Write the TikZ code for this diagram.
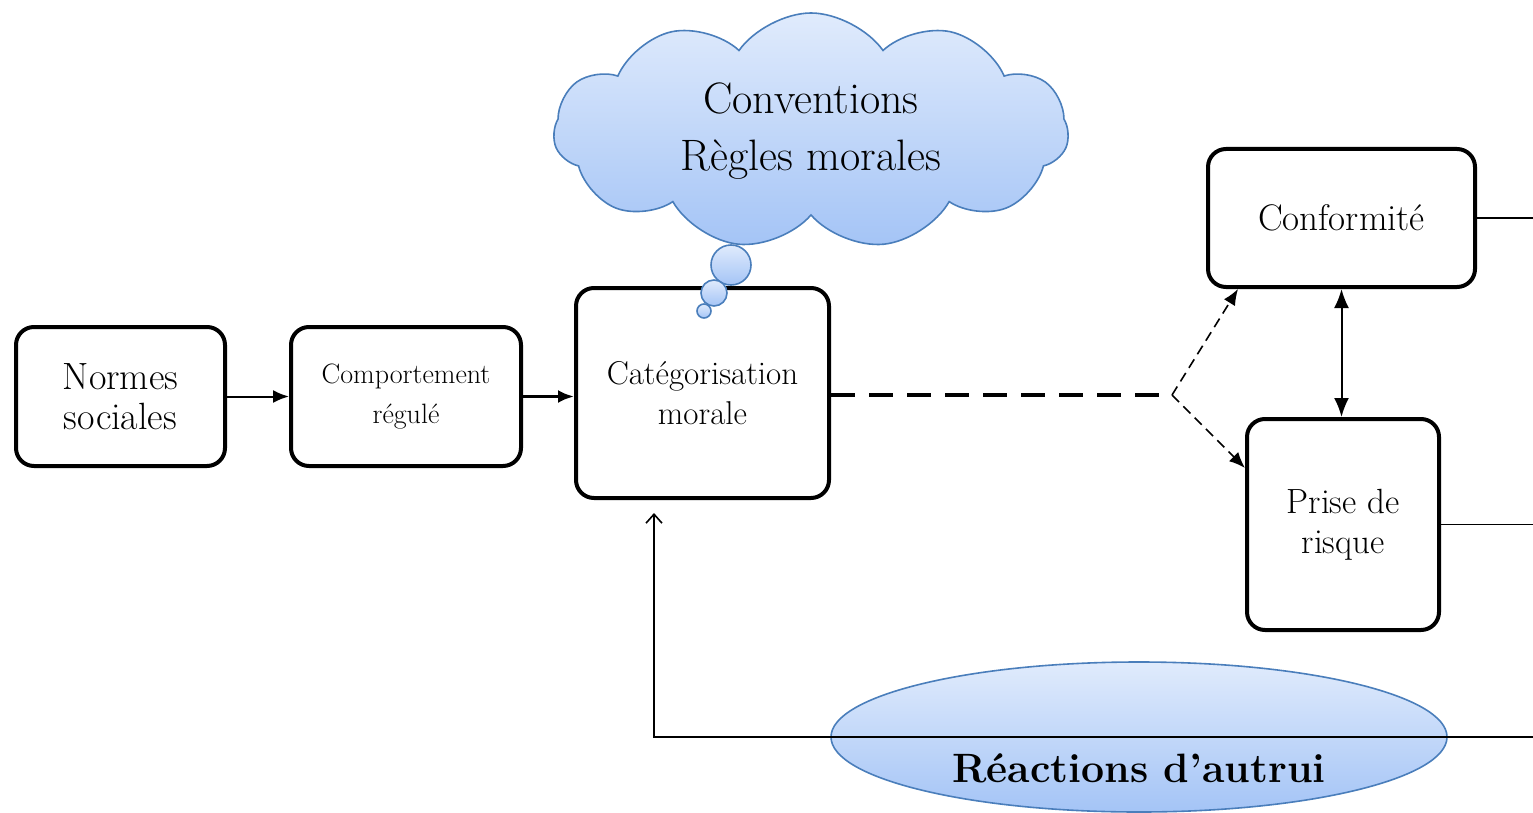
\documentclass[tikz,border=0pt]{standalone}
\usepackage{tikz}
\usetikzlibrary{shapes.symbols,shapes.geometric,arrows.meta}
\definecolor{bubtop}{RGB}{224,235,252}
\definecolor{bubbot}{RGB}{164,196,246}
\definecolor{bubedge}{RGB}{74,126,187}
\tikzstyle{box}=[rectangle, draw, rounded corners=18pt, line width=4pt, align=center, inner sep=0pt]
\tikzstyle{bubble}=[draw=bubedge, line width=1.6pt, top color=bubtop, bottom color=bubbot, inner sep=0pt]
\tikzstyle{conn}=[line width=1.6pt]
\tikzstyle{tip}=[-{Latex[length=16pt, width=13pt]}]
\begin{document}
\begin{tikzpicture}[x=1pt, y=-1pt]
                    \useasboundingbox (0,0) rectangle (1533,813);
                    \node[box, minimum width=209pt, minimum height=139pt, font=\fontsize{38}{40}\selectfont] (normes) at (120.5, 396.5) {Normes\\sociales};
                    \node[box, minimum width=230pt, minimum height=139pt, font=\fontsize{28}{40}\selectfont] (comp) at (406, 396.5) {Comportement\\régulé};
                    \node[box, minimum width=253pt, minimum height=210pt, font=\fontsize{33}{40}\selectfont] (cat) at (702.5, 393) {Catégorisation\\morale};
                    \node[box, minimum width=267pt, minimum height=138pt, font=\fontsize{37}{40}\selectfont] (conf) at (1341.5, 218) {Conformité};
                    \node[box, minimum width=192pt, minimum height=211pt, font=\fontsize{35}{40}\selectfont] (prise) at (1343, 524.5) {Prise de\\risque};
                    \node[bubble, cloud, cloud puffs=11, cloud puff arc=110, aspect=2.2, minimum width=515pt, minimum height=236pt, align=center, font=\fontsize{44}{57}\selectfont] (cloud) at (811, 131) {Conventions\\Règles morales};
                    \node[bubble, circle, minimum size=40pt] (b1) at (731, 265) {};
                    \node[bubble, circle, minimum size=26pt] (b2) at (714, 293) {};
                    \node[bubble, circle, minimum size=14pt] (b3) at (704, 311) {};
                    \coordinate (split) at (1172, 395);
                    \coordinate (edge) at (1533, 0);
                    \coordinate (fb) at (1533, 737);
                    \draw[tip, line width=2pt] (normes) -- (comp);
                    \draw[tip, line width=3pt] (comp.east) -- (comp.east -| cat.west);
                    \draw[line width=4pt, dash pattern=on 24pt off 14pt] (cat.east |- split) -- (split);
                    \draw[tip, conn, dash pattern=on 10pt off 6pt] (split) -- ([xshift=32pt]conf.south west);
                    \draw[tip, conn, dash pattern=on 10pt off 6pt] (split) -- ([yshift=-51pt]prise.north west);
                    \draw[{Latex[length=19pt, width=15pt]}-{Latex[length=19pt, width=15pt]}, line width=2pt] (conf.south) -- (conf.south |- prise.north);
                    \draw[conn] (conf.east) -- (conf.east -| edge);
                    \draw[conn] (prise.east) -- (prise.east -| edge);
                    \node[bubble, ellipse, minimum width=616pt, minimum height=150pt] (reac) at (1139, 737) {};
                    \draw[-{Straight Barb[length=9pt, width=16pt]}, conn] (fb) -| ([xshift=-48.5pt, yshift=-13pt]cat.south);
                    \node[font=\fontsize{41}{40}\selectfont\bfseries] (reactxt) at (1139, 768) {Réactions d'autrui};
                \end{tikzpicture}
\end{document}
